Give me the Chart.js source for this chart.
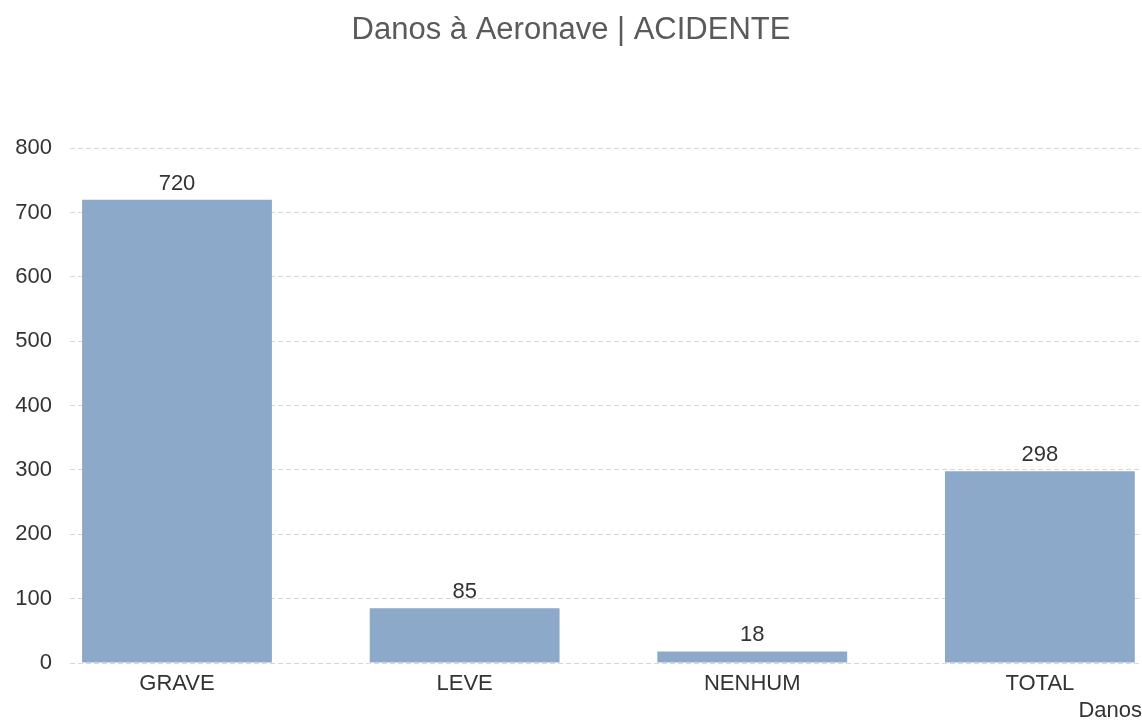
<!DOCTYPE html>
<html>
<head>
<meta charset="utf-8">
<script src="https://cdn.jsdelivr.net/npm/chart.js@4/dist/chart.umd.min.js"></script>
<style>
  html, body { margin: 0; padding: 0; background: #fff; }
  #wrap { width: 1142px; height: 720px; position: relative; }
</style>
</head>
<body>
<div id="wrap"><canvas id="chart"></canvas></div>
<script>
const categories = ['GRAVE', 'LEVE', 'NENHUM', 'TOTAL'];
const counts = [720, 85, 18, 298];
const yTicks = [0, 100, 200, 300, 400, 500, 600, 700, 800];

const FONT = "'Liberation Sans', Arial, sans-serif";

// value labels above each bar
const valueLabels = {
  id: 'valueLabels',
  afterDatasetsDraw(chart) {
    const ctx = chart.ctx;
    const meta = chart.getDatasetMeta(0);
    ctx.save();
    ctx.font = `22px ${FONT}`;
    ctx.fillStyle = '#333';
    ctx.textAlign = 'center';
    ctx.textBaseline = 'alphabetic';
    meta.data.forEach((bar, i) => {
      ctx.fillText(String(counts[i]), bar.x, bar.y - 10);
    });
    ctx.restore();
  }
};

new Chart(document.getElementById('chart'), {
  type: 'bar',
  data: {
    datasets: [{
      data: counts.map((v, i) => ({ x: i, y: v })),
      backgroundColor: '#8DA9C9',
      borderWidth: 0,
      barPercentage: 0.66,
      categoryPercentage: 1
    }]
  },
  options: {
    responsive: true,
    maintainAspectRatio: false,
    animation: false,
    layout: { padding: 0 },
    plugins: {
      legend: { display: false },
      tooltip: { enabled: false },
      title: {
        display: true,
        text: 'Danos à Aeronave | ACIDENTE',
        color: '#5a5a5a',
        font: { family: FONT, size: 31, weight: 'normal' },
        padding: { top: 12, bottom: 99 }
      }
    },
    scales: {
      x: {
        type: 'linear',
        min: -0.372,
        max: 3.355,
        offset: false,
        afterFit: s => { s.height = 57; },
        grid: { display: false, drawTicks: false },
        border: { display: false },
        ticks: {
          stepSize: 1,
          includeBounds: false,
          autoSkip: false,
          maxRotation: 0,
          padding: 8,
          color: '#333',
          font: { family: FONT, size: 22 },
          callback: v => categories[v] ?? ''
        },
        title: {
          display: true,
          text: 'Danos',
          align: 'end',
          color: '#333',
          font: { family: FONT, size: 22 },
          padding: { top: 0, bottom: -4 }
        }
      },
      y: {
        min: 0,
        max: 800,
        afterBuildTicks: s => { s.ticks = yTicks.map(v => ({ value: v })); },
        afterFit: s => { s.width = 70; },
        grid: {
          color: '#d8d8d8',
          lineWidth: 1,
          drawTicks: false
        },
        border: { display: false, dash: [5, 3] },
        ticks: {
          padding: 18,
          color: '#333',
          font: { family: FONT, size: 22 }
        }
      }
    }
  },
  plugins: [valueLabels]
});
</script>
</body>
</html>
